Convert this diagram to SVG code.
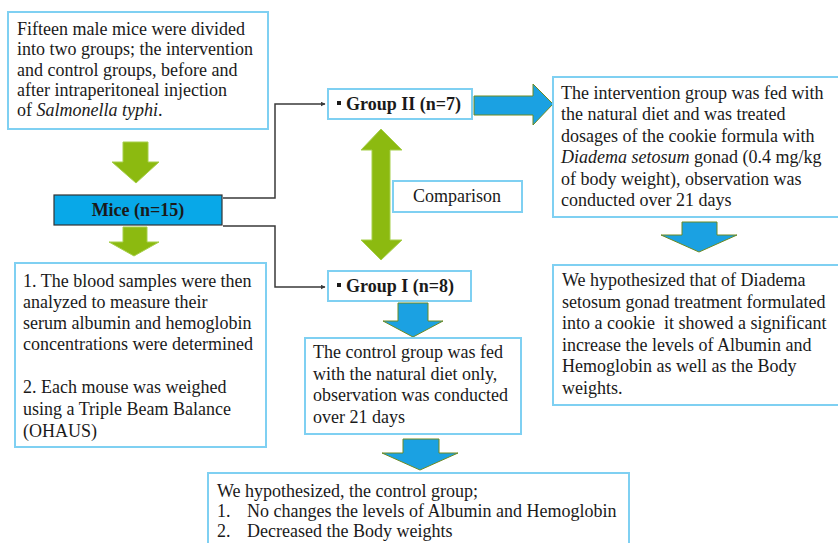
<svg xmlns="http://www.w3.org/2000/svg" width="838" height="543" viewBox="0 0 838 543">
<style>
.box{fill:#fff;stroke:#7fd0f2;stroke-width:2}
.t{font-family:"Liberation Serif","Times New Roman",serif;font-size:18px;fill:#1a1a1a}
.b{font-weight:bold}
.g{fill:#8cba10;stroke:#a6cf4a;stroke-width:1}
.bl{fill:#1ba1e2;stroke:#6d8a22;stroke-width:1}
.conn{fill:none;stroke:#3a3a3a;stroke-width:1.5}
</style>
<defs>
<marker id="ah" viewBox="0 0 10 10" refX="9" refY="5" markerWidth="5" markerHeight="5" orient="auto" markerUnits="userSpaceOnUse">
<path d="M0,0 L10,5 L0,10 z" fill="#3a3a3a"/>
</marker>
</defs>
<rect width="838" height="543" fill="#fff"/>
<g id="connectors">
<path class="conn" d="M223,198 H275 V104 H325" marker-end="url(#ah)"/>
<path class="conn" d="M223,226 H275 V287 H325" marker-end="url(#ah)"/>
<polygon class="g" points="123,142 148,142 148,162 159,162 136,183 112,162 123,162"/>
<polygon class="g" points="123,227 147,227 147,242 159,242 134,256 109,242 123,242"/>
<polygon class="g" points="372,150 361,150 381,129 402,150 390,150 390,240 402,240 381,260 361,240 372,240"/>
<polygon class="bl" points="474,96 533,96 533,84 553,104 533,125 533,115 474,115"/>
<polygon class="bl" points="682,222 717,222 717,235 737,235 699,252 661,235 682,235"/>
<polygon class="bl" points="398,303 428,303 428,321 443,321 413,337 383,321 398,321"/>
<polygon class="bl" points="403,439 439,439 439,453 458,453 420,470 382,453 403,453"/>
</g>
<g id="intro">
<rect class="box" x="8" y="12" width="260" height="117"/>
<text class="t" x="17" y="35">Fifteen male mice were divided</text>
<text class="t" x="17" y="55">into two groups; the intervention</text>
<text class="t" x="17" y="76">and control groups, before and</text>
<text class="t" x="17" y="96">after intraperitoneal injection</text>
<text class="t" x="17" y="116">of <tspan font-style="italic">Salmonella typhi</tspan>.</text>
</g>
<g id="mice">
<rect x="54" y="195" width="168" height="30" fill="#08a8e8" stroke="#333" stroke-width="1.2"/>
<text class="t b" x="138" y="216" text-anchor="middle">Mice (n=15)</text>
</g>
<g id="measures">
<rect class="box" x="15" y="263" width="251" height="184"/>
<text class="t" x="23" y="287">1. The blood samples were then</text>
<text class="t" x="23" y="308">analyzed to measure their</text>
<text class="t" x="23" y="329">serum albumin and hemoglobin</text>
<text class="t" x="23" y="350">concentrations were determined</text>
<text class="t" x="23" y="393">2. Each mouse was weighed</text>
<text class="t" x="23" y="415">using a Triple Beam Balance</text>
<text class="t" x="23" y="437">(OHAUS)</text>
</g>
<g id="group2">
<rect class="box" x="328" y="89" width="144" height="30"/>
<rect x="337" y="101" width="4" height="4" fill="#1a1a1a"/>
<text class="t b" x="346" y="110">Group II (n=7)</text>
</g>
<g id="group1">
<rect class="box" x="328" y="271" width="143" height="30"/>
<rect x="337" y="283" width="4" height="4" fill="#1a1a1a"/>
<text class="t b" x="346" y="292">Group I (n=8)</text>
</g>
<g id="comparison">
<rect class="box" x="393" y="181" width="129" height="31"/>
<text class="t" x="457" y="202" text-anchor="middle">Comparison</text>
</g>
<g id="intervention">
<rect class="box" x="553" y="77" width="300" height="140"/>
<text class="t" x="561" y="99">The intervention group was fed with</text>
<text class="t" x="561" y="120">the natural diet and was treated</text>
<text class="t" x="561" y="142">dosages of the cookie formula with</text>
<text class="t" x="561" y="163"><tspan font-style="italic">Diadema setosum</tspan> gonad (0.4 mg/kg</text>
<text class="t" x="561" y="185">of body weight), observation was</text>
<text class="t" x="561" y="206">conducted over 21 days</text>
</g>
<g id="hyp-intervention">
<rect class="box" x="553" y="265" width="300" height="140"/>
<text class="t" x="562" y="286">We hypothesized that of Diadema</text>
<text class="t" x="562" y="308">setosum gonad treatment formulated</text>
<text class="t" x="562" y="329" xml:space="preserve">into a cookie  it showed a significant</text>
<text class="t" x="562" y="351">increase the levels of Albumin and</text>
<text class="t" x="562" y="372">Hemoglobin as well as the Body</text>
<text class="t" x="562" y="394">weights.</text>
</g>
<g id="control">
<rect class="box" x="305" y="338" width="216" height="96"/>
<text class="t" x="313" y="358">The control group was fed</text>
<text class="t" x="313" y="380">with the natural diet only,</text>
<text class="t" x="313" y="401">observation was conducted</text>
<text class="t" x="313" y="423">over 21 days</text>
</g>
<g id="hyp-control">
<rect class="box" x="208" y="473" width="421" height="80"/>
<text class="t" x="217" y="497">We hypothesized, the control group;</text>
<text class="t" x="217" y="517">1.</text>
<text class="t" x="247" y="517">No changes the levels of Albumin and Hemoglobin</text>
<text class="t" x="217" y="537">2.</text>
<text class="t" x="247" y="537">Decreased the Body weights</text>
</g>
</svg>
